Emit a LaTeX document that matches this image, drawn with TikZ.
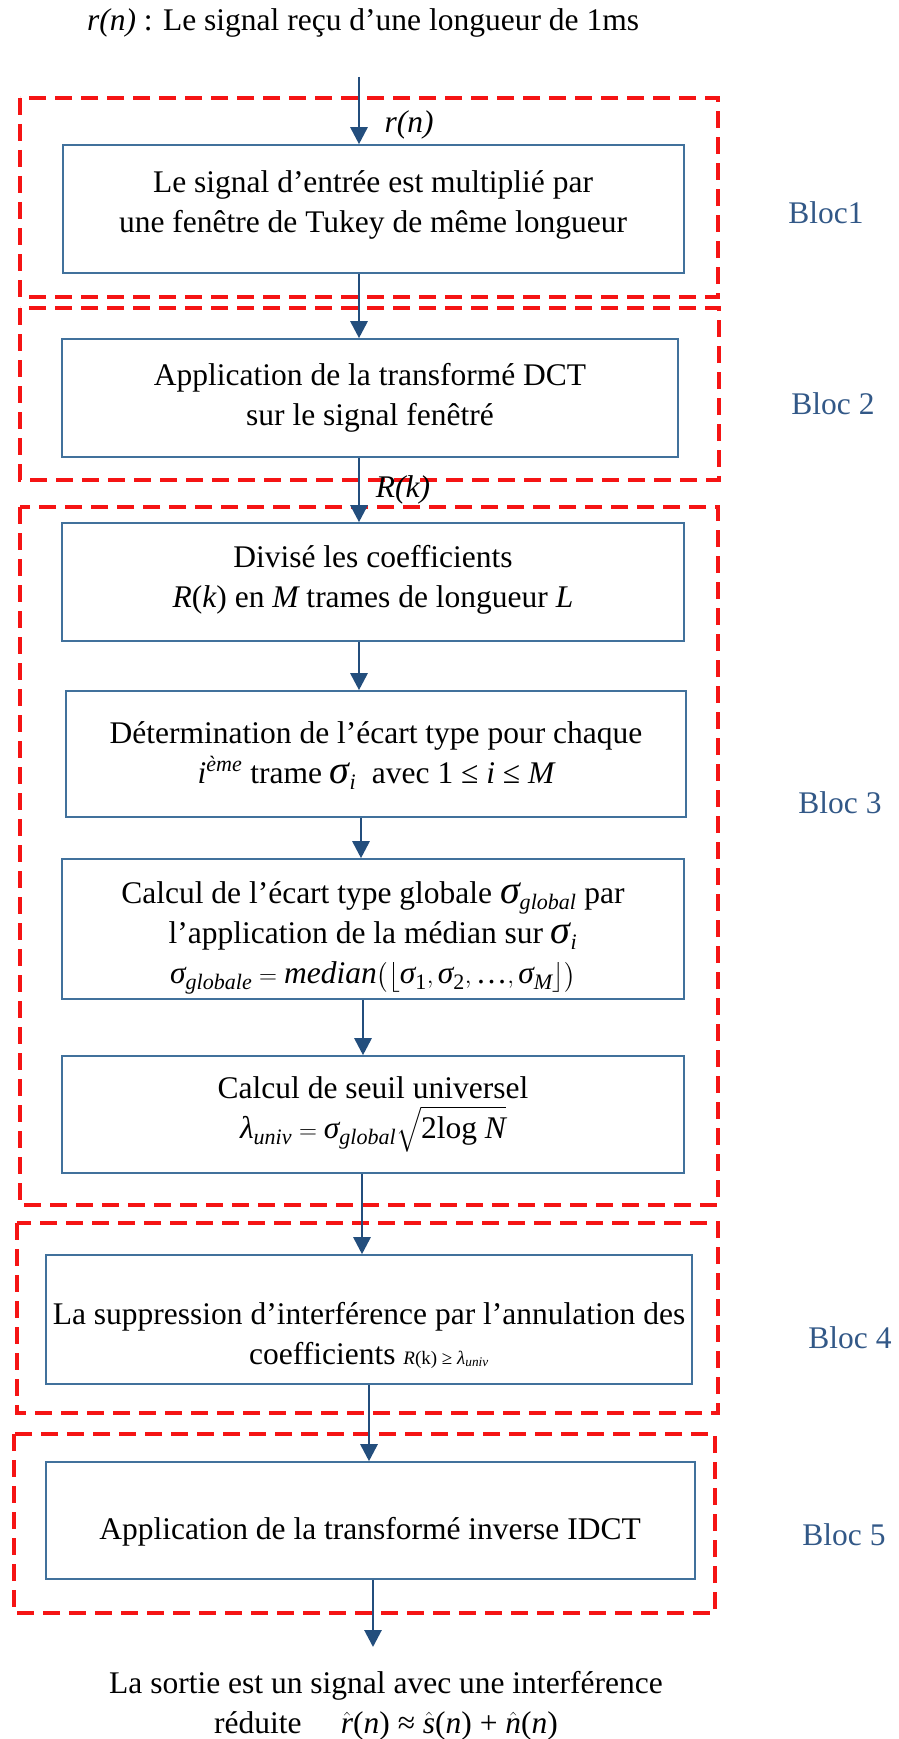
\documentclass[tikz,border=0pt]{standalone}
\usepackage{fontspec}
\setmainfont{Liberation Serif}
\usepackage{amsmath}
\usetikzlibrary{arrows.meta}
\definecolor{boxblue}{RGB}{65,113,156}
\definecolor{arrblue}{RGB}{35,78,125}
\definecolor{lblblue}{RGB}{50,88,135}
\definecolor{dashred}{RGB}{245,20,20}
\newcommand\mi[1]{\text{\itshape #1}}
\newcommand\Sig{\text{\fontsize{40}{40}\selectfont\itshape σ}}
\begin{document}
\begin{tikzpicture}[x=1pt,y=-1pt,
  every node/.style={font=\fontsize{31.5}{40}\selectfont},
  stepbox/.style={draw=boxblue, line width=1.6pt, rectangle, inner sep=0pt},
  txt/.style={align=center, inner sep=0pt},
  blocrect/.style={draw=dashred, line width=3.3pt, dash pattern=on 17pt off 9pt},
  bloclbl/.style={text=lblblue, inner sep=0pt},
  arr/.style={draw=arrblue, line width=2.8pt, -{Triangle[length=17pt,width=17pt]}}]
\useasboundingbox (0,0) rectangle (898,1739);

% dashed blocks
\draw[blocrect] (20,98) rectangle (718,297);
\draw[blocrect] (20,308) rectangle (719,480);
\draw[blocrect] (20,507) rectangle (718,1205);
\draw[blocrect] (17,1223) rectangle (718,1413);
\draw[blocrect] (14,1434) rectangle (715,1613);

% title
\node[txt] (title) at (363,23) {\mi{r(n)} : Le signal reçu d’une longueur de 1ms};

% boxes
\node[stepbox, minimum width=621pt, minimum height=128pt] (b1) at (373.5,209) {};
\node[stepbox, minimum width=616pt, minimum height=118pt] (b2) at (370,398) {};
\node[stepbox, minimum width=622pt, minimum height=118pt] (b3) at (373,582) {};
\node[stepbox, minimum width=620pt, minimum height=126pt] (b4) at (376,754) {};
\node[stepbox, minimum width=622pt, minimum height=140pt] (b5) at (373,929) {};
\node[stepbox, minimum width=622pt, minimum height=117pt] (b6) at (373,1114.5) {};
\node[stepbox, minimum width=646pt, minimum height=129pt] (b7) at (369,1319.5) {};
\node[stepbox, minimum width=649pt, minimum height=117pt] (b8) at (370.5,1520.5) {};

% box texts
\node[txt] (t1) at (373,205) {Le signal d’entrée est multiplié par\\une fenêtre de Tukey de même longueur};
\node[txt] (t2) at (370,398) {Application de la transformé DCT\\sur le signal fenêtré};
\node[txt] (t3) at (373,580) {Divisé les coefficients\\\mi{R}(\mi{k}) en \mi{M} trames de longueur \mi{L}};
\node[txt] (t4) at (376,756) {Détermination de l’écart type pour chaque\\$\mi{i}^{\mi{ème}}$ trame $\Sig_{\mi{i}}$ \ avec 1 ≤ \mi{i} ≤ \mi{M}};
\node[txt] (t5) at (373,938) {Calcul de l’écart type globale $\Sig_{\mi{global}}$ par\\l’application de la médian sur $\Sig_{\mi{i}}$\\$\mi{σ}_{\mi{globale}} = \mi{median}\bigl(\bigl\lfloor\mi{σ}_{\text{1}}, \mi{σ}_{\text{2}}, \text{…}, \mi{σ}_{\mi{M}}\bigr\rfloor\bigr)$};
\node[txt] (t6) at (373,1114) {Calcul de seuil universel\\$\mi{λ}_{\mi{univ}} = \mi{σ}_{\mi{global}}\sqrt{\text{2log }\mi{N}}$};
\node[txt] (t7) at (369,1335) {La suppression d’interférence par l’annulation des\\coefficients {\fontsize{19}{19}\selectfont $\mi{R}\text{(k)} \text{ ≥ } \mi{λ}_{\mi{univ}}$}};
\node[txt] (t8) at (370,1532) {Application de la transformé inverse IDCT};

% block labels
\node[bloclbl] (l1) at (826,213) {Bloc1};
\node[bloclbl] (l2) at (833,404) {Bloc 2};
\node[bloclbl] (l3) at (840,803) {Bloc 3};
\node[bloclbl] (l4) at (850,1338) {Bloc 4};
\node[bloclbl] (l5) at (844,1535) {Bloc 5};

% signal labels
\node[txt] (lrn) at (409,125) {\mi{r(n)}};
\node[txt] (lrk) at (403,490) {\mi{R(k)}};

% output text
\node[txt] (out) at (386,1706) {La sortie est un signal avec une interférence\\réduite \quad $\hat{\mi{r}}\text{(}\mi{n}\text{) ≈ }\hat{\mi{s}}\text{(}\mi{n}\text{) + }\hat{\mi{n}}\text{(}\mi{n}\text{)}$};

% arrows
\coordinate (in) at (359,77);
\coordinate (ax) at (359,0);
\coordinate (ay) at (361,0);
\coordinate (az) at (363,0);
\coordinate (aw) at (362,0);
\coordinate (av) at (369,0);
\coordinate (au) at (373,0);
\coordinate (oend) at (373,1647);
\draw[arr] (in) -- (b1.north -| in);
\draw[arr] (b1.south -| ax) -- (b2.north -| ax);
\draw[arr] (b2.south -| ax) -- (b3.north -| ax);
\draw[arr] (b3.south -| ax) -- (b4.north -| ax);
\draw[arr] (b4.south -| ay) -- (b5.north -| ay);
\draw[arr] (b5.south -| az) -- (b6.north -| az);
\draw[arr] (b6.south -| aw) -- (b7.north -| aw);
\draw[arr] (b7.south -| av) -- (b8.north -| av);
\draw[arr] (b8.south -| au) -- (oend);
\end{tikzpicture}
\end{document}
